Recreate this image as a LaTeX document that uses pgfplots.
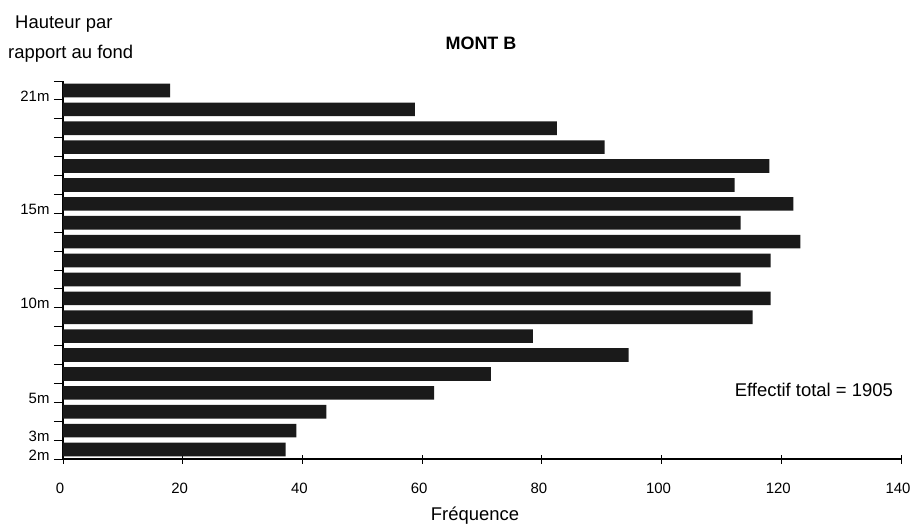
\documentclass[border=0pt]{standalone}
\usepackage{fontspec}
\setmainfont{Liberation Sans}
\usepackage{pgfplots}
\pgfplotsset{compat=1.18}
\definecolor{barc}{HTML}{1A1A1A}
\begin{document}
\begin{tikzpicture}
\useasboundingbox (-63bp,-66bp) rectangle (847bp,459bp);
\begin{axis}[
  scale only axis, width=838bp, height=378bp,
  xmin=0, xmax=140, ymin=2, ymax=22,
  axis lines=left, axis line style={-, line width=1.2bp},
  xtick={0,20,...,140},
  ytick={2,3,5,10,15,21},
  yticklabels={2m,3m,5m,10m,15m,21m},
  minor ytick={4,6,7,8,9,11,12,13,14,16,17,18,19,20,22},
  tick align=center,
  major tick length=9bp, minor tick length=9bp,
  every tick/.style={black, line width=0.9bp},
  tick label style={font=\fontsize{15}{15}\selectfont},
  yticklabel style={yshift=4bp, xshift=-1bp},
  xticklabel style={anchor=base, yshift=-30bp, xshift=-3bp},
  /pgf/number format/assume math mode=true,
  xbar, bar width=0.72,
  clip=false,
]
\addplot[fill=barc, draw=none] coordinates {
(37.2,2.5) (39,3.5) (44,4.5) (62,5.5) (71.5,6.5) (94.5,7.5) (78.5,8.5)
(115.2,9.5) (118.2,10.5) (113.2,11.5) (118.2,12.5) (123.2,13.5) (113.2,14.5)
(122,15.5) (112.2,16.5) (118,17.5) (90.5,18.5) (82.5,19.5) (58.8,20.5) (17.9,21.5)
};
\end{axis}
\node[anchor=base, font=\fontsize{18}{18}\selectfont\bfseries] at (418bp,409bp) {MONT B};
\node[anchor=base west, font=\fontsize{18.5}{18.5}\selectfont, inner sep=0pt] at (-48bp,430bp) {Hauteur par};
\node[anchor=base west, font=\fontsize{18.5}{18.5}\selectfont, inner sep=0pt] at (-55bp,400bp) {rapport au fond};
\node[anchor=base east, font=\fontsize{18.5}{18.5}\selectfont, inner sep=0pt] at (830bp,62bp) {Effectif total = 1905};
\node[anchor=base, font=\fontsize{18.5}{18.5}\selectfont, inner sep=0pt] at (412bp,-61bp) {Fréquence};
\end{tikzpicture}
\end{document}
